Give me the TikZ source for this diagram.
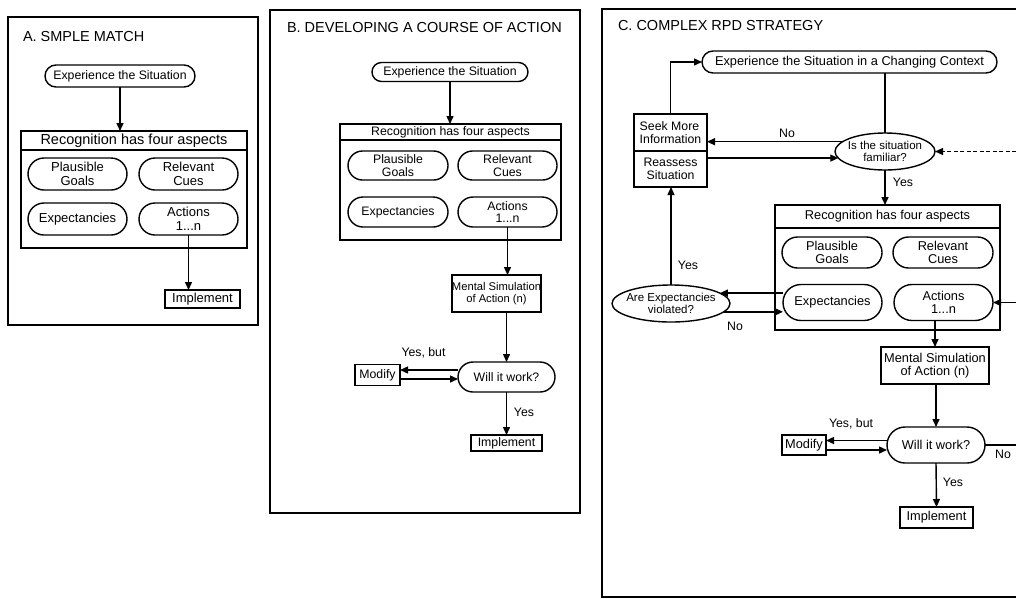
\documentclass[tikz,border=0pt]{standalone}
\usepackage{fontspec}
\setmainfont{Liberation Sans}
\usetikzlibrary{arrows.meta,shapes.misc,shapes.geometric}
\newcommand\fsA{\fontsize{13}{13.5}\selectfont}
\newcommand\fsAP{\fontsize{12.3}{13}\selectfont}
\newcommand\fsAH{\fontsize{14.5}{15}\selectfont}
\newcommand\fsB{\fontsize{12.3}{12.8}\selectfont}
\newcommand\fsC{\fontsize{12.8}{13.3}\selectfont}
\newcommand\fsM{\fontsize{11.2}{12}\selectfont}
\newcommand\fsE{\fontsize{11.5}{12.5}\selectfont}
\newcommand\fsT{\fontsize{14.5}{15}\selectfont}
\newcommand\zw[1]{\makebox[0pt][c]{#1}}
\begin{document}
\begin{tikzpicture}[x=1pt,y=-1pt,
  every node/.style={inner sep=0pt, outer sep=0pt, align=center},
  ln/.style={line width=1.4pt},
  arr/.style={ln, -{Triangle[length=8pt,width=7pt]}},
  frame/.style={draw, line width=1.5pt, rectangle},
  pill/.style={draw, ln, rounded rectangle},
  box/.style={draw, ln, rectangle},
  oval/.style={draw, ln, ellipse},
  ttl/.style={anchor=west, font=\fsT},
  lbl/.style={font=\fsB},
]
\useasboundingbox (0,0) rectangle (1016,598);

% ---------------- Panel A ----------------
\node[frame, minimum width=250, minimum height=308] (frA) at (133,171) {};
\node[ttl] (tA) at (23,37) {A. SMPLE MATCH};
\node[pill, minimum width=150, minimum height=22, font=\fsAP] (expA) at (120,76) {Experience the Situation};
\node[box, minimum width=226, minimum height=117] (recA) at (134,189.5) {};
\node[box, minimum width=226, minimum height=19, anchor=north, font=\fsAH] (recAh) at (recA.north) {Recognition has four aspects};
\node[pill, minimum width=99, minimum height=32, font=\fsA] (goalsA) at (77.5,174) {Plausible\\Goals};
\node[pill, minimum width=99, minimum height=32, font=\fsA] (cuesA) at (188.5,174) {Relevant\\Cues};
\node[pill, minimum width=99, minimum height=32, font=\fsA] (expcA) at (77.5,219) {Expectancies};
\node[pill, minimum width=99, minimum height=32, font=\fsA] (actA) at (188.5,219) {Actions\\1...n};
\node[box, minimum width=75, minimum height=18, font=\fsA] (implA) at (202.5,299) {Implement};
\draw[arr] (expA.south) -- (expA.south |- recA.north);
\draw[arr] (actA.south) -- (actA.south |- implA.north);

% ---------------- Panel B ----------------
\node[frame, minimum width=310, minimum height=503] (frB) at (425,261.5) {};
\node[ttl] (tB) at (287,27.5) {B. DEVELOPING A COURSE OF ACTION};
\node[pill, minimum width=156, minimum height=19, font=\fsB] (expB) at (450,72) {Experience the Situation};
\node[box, minimum width=221, minimum height=116] (recB) at (450.5,182) {};
\node[box, minimum width=221, minimum height=16, anchor=north, font=\fsB] (recBh) at (recB.north) {Recognition has four aspects};
\node[pill, minimum width=100, minimum height=29, font=\fsB] (goalsB) at (398,165.5) {Plausible\\Goals};
\node[pill, minimum width=99, minimum height=29, font=\fsB] (cuesB) at (507.5,165.5) {Relevant\\Cues};
\node[pill, minimum width=100, minimum height=30, font=\fsB] (expcB) at (398,212) {Expectancies};
\node[pill, minimum width=99, minimum height=30, font=\fsB] (actB) at (507.5,212) {Actions\\1...n};
\node[box, minimum width=89, minimum height=37, font=\fsM] (mentB) at (496.5,293.5) {Mental Simulation\\of Action (n)};
\node[pill, minimum width=97, minimum height=30, font=\fsB] (willB) at (506.5,377) {Will it work?};
\node[box, minimum width=45, minimum height=21, font=\fsB] (modB) at (377.5,375) {Modify};
\node[box, minimum width=71, minimum height=16, font=\fsB] (implB) at (506.5,443) {Implement};
\draw[arr] (expB.south) -- (expB.south |- recB.north);
\draw[arr] (actB.south) -- (actB.south |- mentB.north);
\draw[arr] (willB.north |- mentB.south) -- (willB.north);
\draw[arr] ([yshift=5pt]willB.west |- modB.east) -- ([yshift=5pt]modB.east);
\draw[arr] ([yshift=-4pt]modB.east) -- ([yshift=-4pt]modB.east -| willB.west);
\draw[arr] (willB.south) -- (implB.north);
\node[lbl] (lYbB) at (423.5,353) {Yes, but};
\node[lbl] (lYB) at (524,412) {Yes};

% ---------------- Panel C ----------------
\coordinate (cTR) at (1016,9);
\coordinate (cTL) at (602,9);
\coordinate (cBL) at (602,597);
\coordinate (cBR) at (1016,597);
\draw[line width=1.5pt] (cTR) -- (cTL) -- (cBL) -- (cBR);
\node[ttl] (tC) at (618,26) {C. COMPLEX RPD STRATEGY};
\node[pill, minimum width=295, minimum height=22, font=\fsC] (expC) at (849.5,62) {Experience the Situation in a Changing Context};
\node[box, minimum width=73, minimum height=37, font=\fsB, align=left] (seekC) at (670.5,132.5) {Seek More\\Information};
\node[box, minimum width=73, minimum height=36, font=\fsB] (reasC) at (670.5,169) {Reassess\\Situation};
\node[oval, minimum width=100, minimum height=37, font=\fsE] (famC) at (885,151.5) {\zw{Is the situation}\\\zw{familiar?}};
\node[box, minimum width=225, minimum height=125] (recC) at (887.5,267.5) {};
\node[box, minimum width=225, minimum height=23, anchor=north, font=\fsC] (recCh) at (recC.north) {Recognition has four aspects};
\node[pill, minimum width=100, minimum height=31, font=\fsC] (goalsC) at (832,252.5) {Plausible\\Goals};
\node[pill, minimum width=100, minimum height=31, font=\fsC] (cuesC) at (943,252.5) {Relevant\\Cues};
\node[pill, minimum width=99, minimum height=36, font=\fsC] (expcC) at (832.5,302.5) {Expectancies};
\node[pill, minimum width=99, minimum height=36, font=\fsC] (actC) at (943.5,302.5) {Actions\\1...n};
\node[oval, minimum width=118, minimum height=37, font=\fsE] (violC) at (671,303.5) {\zw{Are Expectancies}\\\zw{violated?}};
\node[box, minimum width=108, minimum height=37, font=\fsC] (mentC) at (935,365.5) {Mental Simulation\\of Action (n)};
\node[pill, minimum width=98, minimum height=36, font=\fsC] (willC) at (936,445) {Will it work?};
\node[box, minimum width=44, minimum height=20, font=\fsC] (modC) at (804,445) {Modify};
\node[box, minimum width=73, minimum height=21, font=\fsC] (implC) at (936.5,517.5) {Implement};
\coordinate (rtF) at (1016,151.5);
\coordinate (rtA) at (1016,300);
\coordinate (rtW) at (1016,443);

\draw[arr] (seekC.north) |- (expC.west);
\draw[ln] (famC.north |- expC.south) -- (famC.north);
\draw[arr] (famC.167) -- (famC.167 -| seekC.east);
\draw[arr] (famC.188 -| reasC.east) -- (famC.188);
\draw[arr, dash pattern=on 4pt off 2.5pt] (rtF) -- (famC.east);
\draw[arr] (famC.south) -- (famC.south |- recC.north);
\draw[arr] (violC.12 -| expcC.west) -- (violC.12);
\draw[arr] (violC.-9) -- (violC.-9 -| expcC.west);
\draw[arr] (violC.north) -- (violC.north |- reasC.south);
\draw[arr] (rtA |- actC.east) -- (actC.east);
\draw[arr] (actC.south -| mentC.north) -- (mentC.north);
\draw[arr] (mentC.south -| willC.north) -- (willC.north);
\draw[arr] ([yshift=4.5pt]willC.west) -- ([yshift=4.5pt]willC.west -| modC.east);
\draw[arr] ([yshift=-5pt]modC.east) -- ([yshift=-5pt]modC.east -| willC.west);
\draw[ln] (willC.east) -- (willC.east -| rtW);
\draw[arr] (willC.south) -- (implC.north);
\node[lbl] (lNoF) at (787,133) {No};
\node[lbl] (lYesF) at (903,182) {Yes};
\node[lbl] (lYesV) at (688,265) {Yes};
\node[lbl] (lNoV) at (735,326) {No};
\node[lbl] (lYbC) at (851,424) {Yes, but};
\node[lbl] (lNoW) at (1003,454) {No};
\node[lbl] (lYesW) at (953,482) {Yes};
\end{tikzpicture}
\end{document}
